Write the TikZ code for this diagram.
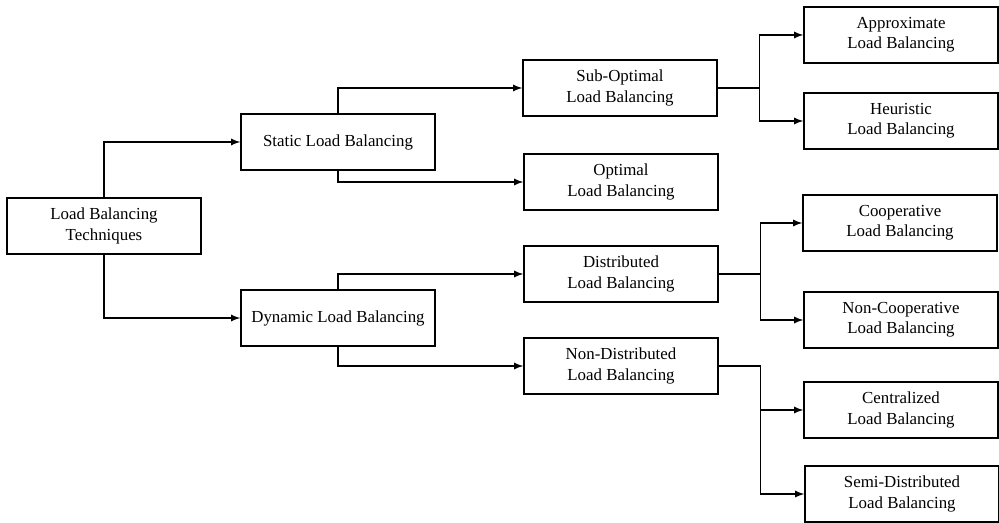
\documentclass[tikz,border=0pt]{standalone}
\usepackage{fontspec}
\setmainfont{Liberation Serif}
\usepackage{tikz}
\usetikzlibrary{arrows,positioning}

\begin{document}
\begin{tikzpicture}
			[x=0.02cm,y=-0.02cm,font=\fontsize{9.6}{11.5}\selectfont,
			box/.style={shape=rectangle,draw=black,thick,minimum width=3.88cm,
				minimum height=1.12cm,align=center,inner sep=1pt},
			arc/.style={->,>=latex,thick}]
			\useasboundingbox (0,0) rectangle (999,523);
			\node (root) [box] at (104,226) {Load Balancing\\Techniques};
			
			\node (static) [box] at (338,142) {Static Load Balancing};
			\node (dynamic) [box] at (338,318) {Dynamic Load Balancing};
			
			\node (subopt) [box] at (620,88) {Sub-Optimal\\Load Balancing};
			\node (optimal) [box] at (621,182) {Optimal\\Load Balancing};
			\node (distrib) [box] at (621,274) {Distributed\\Load Balancing};
			\node (nondist) [box] at (621,366) {Non-Distributed\\Load Balancing};
			
			\node (approx) [box] at (901,35) {Approximate\\Load Balancing};
			\node (heur) [box] at (901,121) {Heuristic\\Load Balancing};
			\node (coop) [box] at (900,223) {Cooperative\\Load Balancing};
			\node (noncoop) [box] at (901,320) {Non-Cooperative\\Load Balancing};
			\node (central) [box] at (901,410) {Centralized\\Load Balancing};
			\node (semidist) [box] at (902,494) {Semi-Distributed\\Load Balancing};
			
			\draw [arc] (root.north) |- (static.west);
			\draw [arc] (root.south) |- (dynamic.west);
			\draw [arc] (static.north) |- (subopt.west);
			\draw [arc] (static.south) |- (optimal.west);
			\draw [arc] (dynamic.north) |- (distrib.west);
			\draw [arc] (dynamic.south) |- (nondist.west);
			
			\draw [arc] (subopt.east) -- ++(42,0) |- (approx.west);
			\draw [arc] (subopt.east) -- ++(42,0) |- (heur.west);
			\draw [arc] (distrib.east) -- ++(42,0) |- (coop.west);
			\draw [arc] (distrib.east) -- ++(42,0) |- (noncoop.west);
			\draw [arc] (nondist.east) -- ++(42,0) |- (central.west);
			\draw [arc] (nondist.east) -- ++(42,0) |- (semidist.west);
			\end{tikzpicture}
\end{document}
